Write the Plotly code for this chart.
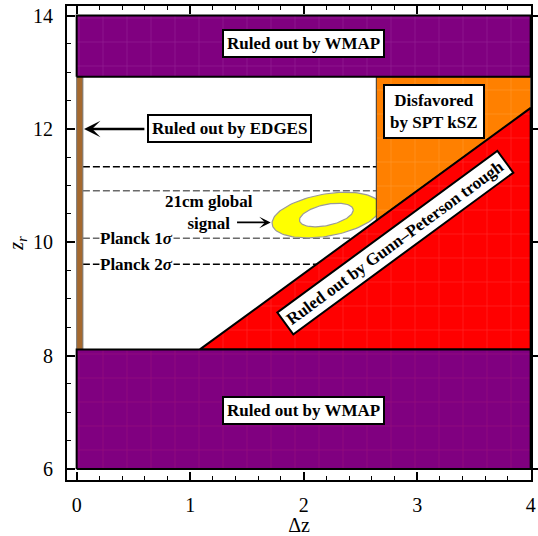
import numpy as np
import plotly.graph_objects as go

# ---------------- data ----------------
dz_span = [0.0, 4.0]                 # full Δz extent of the constraint regions
wmap_low_zr = [6.0, 8.11]            # WMAP excluded (low z_r)
wmap_high_zr = [12.92, 14.0]         # WMAP excluded (high z_r)
edges_dz = [0.0, 0.055]              # EDGES excluded strip
edges_zr = [8.11, 12.92]
gp_dz = [1.086, 4.0, 4.0]            # Gunn-Peterson excluded triangle
gp_zr = [8.11, 12.37, 8.11]
spt_dz = [2.64, 2.64, 4.0, 4.0]      # SPT kSZ disfavored region
spt_zr = [10.39, 12.92, 12.92, 12.37]
planck_2sigma_zr = [9.61, 11.33]
planck_1sigma_zr = [10.07, 10.91]
planck_line_dz = [0.055, 4.0]
signal_center = [2.20, 10.48]        # 21cm global signal contour (ellipse)
signal_outer_axes = [[0.477, 0.168], [-0.032, 0.365]]
signal_inner_axes = [[0.236, 0.104], [-0.021, 0.180]]
x_ticks = [0, 1, 2, 3, 4]
y_ticks = [6, 8, 10, 12, 14]

FONT = "Liberation Serif"
PURPLE = "#800080"
ORANGE = "#ff8000"
RED = "#ff0000"
BROWN = "#a5692f"

fig = go.Figure()


def rect(x, y):
    return [x[0], x[1], x[1], x[0], x[0]], [y[0], y[0], y[1], y[1], y[0]]


def mesh(bg, fg):
    return dict(shape="+", size=24, solidity=0.04, bgcolor=bg, fgcolor=fg,
                fgopacity=0.35, fillmode="replace")


# Planck dashed lines (beneath the regions)
for zr in planck_2sigma_zr:
    fig.add_trace(go.Scatter(x=planck_line_dz, y=[zr, zr], mode="lines",
                             line=dict(color="black", width=1.5, dash="7px,3px"),
                             hoverinfo="skip", showlegend=False))
for zr in planck_1sigma_zr:
    fig.add_trace(go.Scatter(x=planck_line_dz, y=[zr, zr], mode="lines",
                             line=dict(color="#6a6a6a", width=1.5, dash="7px,3px"),
                             hoverinfo="skip", showlegend=False))

# 21cm global-signal ring
t = np.linspace(0, 2 * np.pi, 120)
for axes, fc in [(signal_outer_axes, "#ffff00"), (signal_inner_axes, "white")]:
    ex = signal_center[0] + axes[0][0] * np.cos(t) + axes[1][0] * np.sin(t)
    ey = signal_center[1] + axes[0][1] * np.cos(t) + axes[1][1] * np.sin(t)
    fig.add_trace(go.Scatter(x=ex, y=ey, mode="lines", fill="toself", fillcolor=fc,
                             line=dict(color="#9a9a9a", width=1.2),
                             hoverinfo="skip", showlegend=False))

# EDGES strip
ex, ey = rect(edges_dz, edges_zr)
fig.add_trace(go.Scatter(x=ex, y=ey, mode="lines", fill="toself", fillcolor=BROWN,
                         line=dict(color="#777777", width=1),
                         hoverinfo="skip", showlegend=False))

# SPT kSZ region
fig.add_trace(go.Scatter(x=spt_dz + [spt_dz[0]], y=spt_zr + [spt_zr[0]], mode="lines",
                         fill="toself", fillcolor=ORANGE,
                         fillpattern=mesh(ORANGE, "#ffd090"),
                         line=dict(color="#333333", width=1),
                         hoverinfo="skip", showlegend=False))

# Gunn-Peterson region
fig.add_trace(go.Scatter(x=gp_dz + [gp_dz[0]], y=gp_zr + [gp_zr[0]], mode="lines",
                         fill="toself", fillcolor=RED,
                         fillpattern=mesh(RED, "#ff9090"),
                         line=dict(color="black", width=2),
                         hoverinfo="skip", showlegend=False))

# WMAP regions
for zr, fg in ((wmap_low_zr, "#d0306a"), (wmap_high_zr, "#c070c0")):
    rx, ry = rect(dz_span, zr)
    fig.add_trace(go.Scatter(x=rx, y=ry, mode="lines", fill="toself", fillcolor=PURPLE,
                             fillpattern=mesh(PURPLE, fg),
                             line=dict(color="black", width=2),
                             hoverinfo="skip", showlegend=False))

# invisible trace to carry the right-hand tick axis
fig.add_trace(go.Scatter(x=[dz_span[0]], y=[y_ticks[0]], yaxis="y2", mode="markers",
                         marker=dict(opacity=0), hoverinfo="skip", showlegend=False))

box = dict(bgcolor="white", bordercolor="black", borderwidth=2, borderpad=3,
           font=dict(family=FONT, size=17, color="black"), showarrow=False,
           xref="x", yref="y")

# label positions
wmap_label_pos = [[2.0, 13.5], [2.0, 7.03]]
edges_label_pos = [1.344, 12.0]
edges_arrow = [[0.61, 0.065], [12.0, 12.0]]
spt_label_pos = [3.148, 12.30]
gp_label_pos = [2.81, 9.99]
signal_label_pos = [1.17, 10.53]
signal_arrow = [[1.40, 1.71], [10.35, 10.35]]
planck_label_dz = 0.53

ann = []
for p in wmap_label_pos:
    ann.append(dict(x=p[0], y=p[1], text="<b>Ruled out by WMAP</b>", **box))
ann.append(dict(x=edges_label_pos[0], y=edges_label_pos[1],
                text="<b>Ruled out by EDGES</b>", **box))
ann.append(dict(x=spt_label_pos[0], y=spt_label_pos[1],
                text="<b>Disfavored<br>by SPT kSZ</b>", **dict(box, borderpad=5)))
ann.append(dict(x=gp_label_pos[0], y=gp_label_pos[1], textangle=-36.3,
                text="<b>Ruled out by Gunn–Peterson trough</b>", **box))
ann.append(dict(x=signal_label_pos[0], y=signal_label_pos[1],
                text="<b>21cm global<br>signal</b>", showarrow=False,
                font=dict(family=FONT, size=17, color="black"), xref="x", yref="y"))
ann.append(dict(x=planck_label_dz, y=planck_1sigma_zr[0], text="<b>Planck 1<i>σ</i></b>",
                showarrow=False, bgcolor="white", borderpad=0,
                font=dict(family=FONT, size=17, color="black"), xref="x", yref="y"))
ann.append(dict(x=planck_label_dz, y=planck_2sigma_zr[0], text="<b>Planck 2<i>σ</i></b>",
                showarrow=False, bgcolor="white", borderpad=0,
                font=dict(family=FONT, size=17, color="black"), xref="x", yref="y"))
# arrows
ann.append(dict(x=edges_arrow[0][1], y=edges_arrow[1][1], ax=edges_arrow[0][0],
                ay=edges_arrow[1][0], axref="x", ayref="y", xref="x", yref="y",
                text="", showarrow=True, arrowhead=3, arrowwidth=2.5, arrowsize=1.1,
                arrowcolor="black", standoff=0, startstandoff=0))
ann.append(dict(x=signal_arrow[0][1], y=signal_arrow[1][1], ax=signal_arrow[0][0],
                ay=signal_arrow[1][0], axref="x", ayref="y", xref="x", yref="y",
                text="", showarrow=True, arrowhead=3, arrowwidth=1.6, arrowsize=1.2,
                arrowcolor="black", standoff=0, startstandoff=0))

tickfont = dict(family=FONT, size=20, color="black")
fig.update_layout(
    width=538, height=536,
    margin=dict(l=67, r=7, t=6, b=56),
    plot_bgcolor="white", paper_bgcolor="white",
    showlegend=False,
    annotations=ann,
    xaxis=dict(range=[-0.085, 4.003], showline=True, linecolor="black", linewidth=2,
               mirror="ticks", ticks="inside", ticklen=8, tickwidth=1.5, tickcolor="black",
               tickvals=x_ticks, showgrid=False, zeroline=False, tickfont=tickfont,
               ticklabelstandoff=6, automargin=False,
               minor=dict(ticks="inside", ticklen=4, tickwidth=1.2, tickcolor="black",
                          dtick=0.2, tick0=0, showgrid=False),
               title=dict(text="Δz", font=dict(family=FONT, size=20, color="black"),
                          standoff=0)),
    yaxis=dict(range=[5.806, 14.168], showline=True, linecolor="black", linewidth=2,
               mirror=True, ticks="inside", ticklen=8, tickwidth=1.5, tickcolor="black",
               tickvals=y_ticks, showgrid=False, zeroline=False, tickfont=tickfont,
               ticklabelstandoff=8, automargin=False,
               minor=dict(ticks="inside", ticklen=4, tickwidth=1.2, tickcolor="black",
                          dtick=0.5, tick0=6, showgrid=False),
               title=dict(text="<i>z<sub>r</sub></i>",
                          font=dict(family=FONT, size=20, color="black"), standoff=4)),
    yaxis2=dict(range=[5.806, 14.168], overlaying="y", side="right", ticks="outside",
                ticklen=6, tickwidth=1.5, tickcolor="black", tickvals=y_ticks,
                showticklabels=False, showline=False, showgrid=False, zeroline=False,
                automargin=False),
)

fig.write_html("out.html", config={"displayModeBar": False},
               post_script="document.body.style.margin='0';document.body.style.padding='0';")
